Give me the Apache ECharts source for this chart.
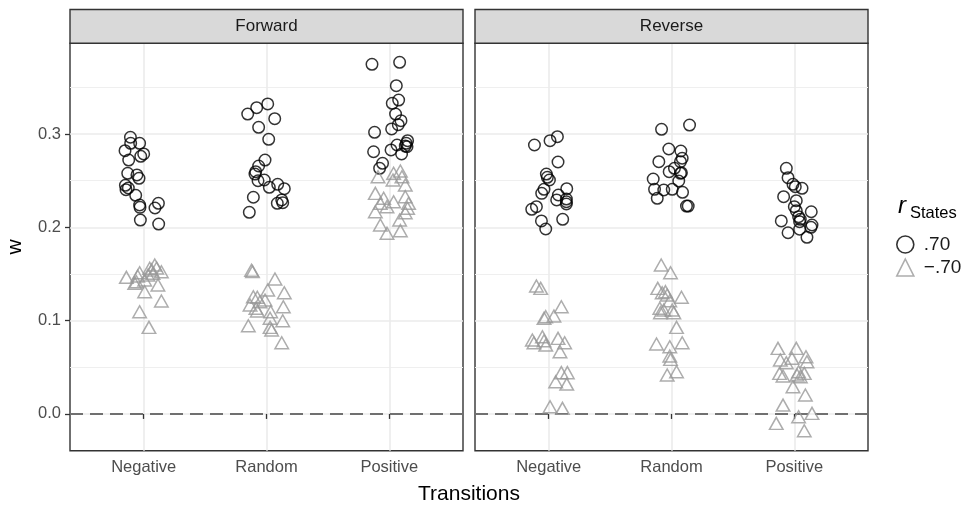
<!DOCTYPE html>
<html><head><meta charset="utf-8">
<script src="https://cdn.jsdelivr.net/npm/echarts@6/dist/echarts.min.js"></script>
<style>html,body{margin:0;padding:0;background:#fff}#c{width:970px;height:506px}</style>
</head><body><div id="c"></div>
<script>
const categories = ['Negative', 'Random', 'Positive'];
const panels = ['Forward', 'Reverse'];
const legendNames = ['.70', '\u2212.70'];
const yTicks = [0, 0.1, 0.2, 0.3];
const yMinorTicks = [0.05, 0.15, 0.25, 0.35];
const xTicks = [1, 2, 3];

// each point: [jitter offset from category centre, w]
const fwdNegativeHigh = [[-0.108,0.2965],[-0.106,0.2900],[-0.033,0.2900],[-0.152,0.2821],[0.000,0.2786],[-0.024,0.2761],[-0.122,0.2721],[-0.130,0.2579],[-0.055,0.2561],[-0.038,0.2525],[-0.149,0.2450],[-0.125,0.2421],[-0.144,0.2403],[-0.065,0.2343],[-0.033,0.2239],[-0.030,0.2214],[0.120,0.2257],[0.092,0.2207],[-0.027,0.2078],[0.122,0.2035]];
const fwdNegativeLow = [[-0.141,0.1464],[-0.033,0.1513],[0.049,0.1561],[0.090,0.1596],[0.144,0.1524],[0.076,0.1507],[0.035,0.1489],[-0.073,0.1400],[-0.059,0.1417],[0.116,0.1382],[0.008,0.1310],[0.144,0.1210],[-0.033,0.1095],[0.043,0.0928],[0.008,0.1435],[0.065,0.1543],[0.106,0.1564],[-0.049,0.1478]];
const fwdRandomHigh = [[-0.153,0.3214],[-0.080,0.3282],[0.010,0.3322],[0.067,0.3164],[-0.064,0.3072],[0.018,0.2943],[-0.012,0.2721],[-0.064,0.2657],[-0.088,0.2596],[-0.094,0.2571],[-0.069,0.2499],[-0.018,0.2507],[0.023,0.2429],[0.091,0.2461],[0.145,0.2414],[0.124,0.2293],[0.088,0.2257],[0.132,0.2264],[-0.107,0.2322],[-0.140,0.2161]];
const fwdRandomLow = [[-0.122,0.1540],[-0.114,0.1525],[0.069,0.1446],[0.010,0.1328],[0.145,0.1299],[-0.107,0.1256],[-0.075,0.1250],[-0.012,0.1221],[-0.134,0.1167],[0.137,0.1149],[-0.075,0.1103],[0.034,0.1095],[0.029,0.1025],[0.132,0.0999],[-0.148,0.0945],[0.029,0.0928],[0.042,0.0900],[0.124,0.0763],[-0.053,0.1203],[-0.086,0.1132]];
const fwdPositiveHigh = [[-0.141,0.3747],[0.084,0.3768],[0.057,0.3518],[0.076,0.3364],[0.024,0.3329],[0.051,0.3214],[0.095,0.3143],[0.073,0.3100],[0.019,0.3054],[-0.120,0.3018],[0.149,0.2928],[0.138,0.2900],[0.144,0.2864],[0.063,0.2882],[0.014,0.2829],[-0.128,0.2810],[0.100,0.2786],[-0.055,0.2686],[-0.079,0.2632],[0.130,0.2871]];
const fwdPositiveLow = [[0.090,0.2603],[-0.092,0.2542],[0.030,0.2507],[0.103,0.2542],[0.130,0.2453],[-0.114,0.2364],[-0.046,0.2311],[0.035,0.2274],[0.130,0.2328],[0.157,0.2257],[-0.073,0.2257],[-0.019,0.2221],[0.149,0.2204],[-0.114,0.2167],[0.130,0.2156],[0.084,0.2078],[-0.073,0.2025],[0.090,0.1964],[-0.019,0.1936],[0.035,0.2579]];
const revNegativeHigh = [[-0.116,0.2882],[0.011,0.2928],[0.071,0.2971],[0.076,0.2700],[-0.019,0.2571],[-0.011,0.2536],[0.006,0.2507],[-0.038,0.2407],[-0.057,0.2364],[0.147,0.2414],[0.079,0.2346],[0.065,0.2293],[0.144,0.2303],[0.144,0.2274],[0.144,0.2250],[-0.100,0.2221],[-0.138,0.2193],[-0.059,0.2068],[0.114,0.2086],[-0.024,0.1982]];
const revNegativeLow = [[-0.100,0.1371],[-0.065,0.1346],[0.103,0.1149],[0.043,0.1049],[-0.024,0.1042],[-0.038,0.1025],[-0.133,0.0792],[-0.120,0.0763],[-0.051,0.0827],[-0.038,0.0784],[-0.024,0.0738],[0.076,0.0810],[0.130,0.0763],[0.092,0.0667],[0.103,0.0442],[0.152,0.0442],[0.057,0.0345],[0.147,0.0320],[0.011,0.0077],[0.112,0.0060]];
const revRandomHigh = [[-0.081,0.3050],[0.147,0.3096],[-0.022,0.2839],[0.076,0.2818],[-0.103,0.2703],[0.087,0.2740],[0.073,0.2703],[0.024,0.2632],[-0.019,0.2596],[0.073,0.2579],[-0.149,0.2518],[0.059,0.2496],[-0.138,0.2407],[-0.063,0.2400],[0.006,0.2407],[0.090,0.2375],[-0.116,0.2311],[0.122,0.2228],[0.136,0.2228],[0.081,0.2585]];
const revRandomLow = [[-0.084,0.1596],[-0.008,0.1513],[-0.112,0.1346],[-0.076,0.1299],[-0.049,0.1310],[-0.035,0.1274],[0.081,0.1250],[-0.095,0.1132],[-0.063,0.1114],[-0.014,0.1213],[0.006,0.1114],[0.019,0.1085],[-0.090,0.1085],[0.041,0.0928],[-0.122,0.0749],[-0.014,0.0720],[0.087,0.0763],[-0.014,0.0621],[-0.008,0.0585],[-0.035,0.0417],[0.041,0.0452]];
const revPositiveHigh = [[-0.065,0.2632],[-0.051,0.2532],[-0.011,0.2461],[0.008,0.2435],[0.063,0.2418],[-0.087,0.2328],[0.016,0.2285],[0.000,0.2221],[0.016,0.2178],[0.138,0.2167],[0.035,0.2114],[0.049,0.2086],[0.043,0.2060],[-0.106,0.2068],[0.144,0.2025],[0.136,0.2000],[-0.051,0.1942],[0.043,0.1979],[0.103,0.1893]];
const revPositiveLow = [[-0.133,0.0703],[0.016,0.0703],[-0.114,0.0578],[-0.019,0.0596],[0.095,0.0613],[0.103,0.0559],[-0.065,0.0549],[-0.120,0.0435],[0.035,0.0452],[0.081,0.0435],[-0.092,0.0406],[0.022,0.0417],[0.049,0.0399],[-0.011,0.0292],[0.090,0.0203],[-0.092,0.0095],[0.035,-0.0030],[0.144,0.0006],[-0.147,-0.0101],[0.081,-0.0180]];

const panelData = [
  [[fwdNegativeHigh, fwdRandomHigh, fwdPositiveHigh], [fwdNegativeLow, fwdRandomLow, fwdPositiveLow]],
  [[revNegativeHigh, revRandomHigh, revPositiveHigh], [revNegativeLow, revRandomLow, revPositiveLow]]
];

const FONT = '"Liberation Sans", Arial, Helvetica, sans-serif';
const Y_MIN = -0.0394, Y_MAX = 0.3972;
const gridLeft = [70, 475], gridTop = 43.3, gridW = 393, gridH = 407.4;
const symbolCfg = [
  {symbol: 'circle', size: 11.5, color: '#000000'},
  {symbol: 'triangle', size: [13.5, 12], color: '#999999'}
];

const grids = [], xAxes = [], yAxes = [], series = [], graphics = [];
panels.forEach((p, pi) => {
  grids.push({left: gridLeft[pi], top: gridTop, width: gridW, height: gridH, show: true,
    borderColor: '#333333', borderWidth: 1.4, backgroundColor: 'transparent', containLabel: false});
  xAxes.push({gridIndex: pi, type: 'value', min: 0.4, max: 3.6,
    axisLine: {show: false},
    axisTick: {show: true, customValues: xTicks, length: 5, lineStyle: {color: '#333333', width: 1.3}},
    axisLabel: {customValues: xTicks, formatter: v => categories[Math.round(v) - 1], fontSize: 16.5,
      color: '#4D4D4D', fontFamily: FONT, margin: 8},
    splitLine: {show: true, lineStyle: {color: '#EBEBEB', width: 1.6}}});
  yAxes.push({gridIndex: pi, type: 'value', min: Y_MIN, max: Y_MAX,
    axisLine: {show: false},
    axisTick: {show: pi === 0, customValues: yTicks, length: 5, lineStyle: {color: '#333333', width: 1.3}},
    axisLabel: {show: pi === 0, customValues: yTicks, formatter: v => v.toFixed(1), fontSize: 16.5,
      color: '#4D4D4D', fontFamily: FONT, margin: 9},
    splitLine: {show: true, lineStyle: {color: '#EBEBEB', width: 1.6}}});
  yAxes.push({gridIndex: pi, type: 'value', min: Y_MIN, max: Y_MAX, position: 'right',
    axisLine: {show: false},
    axisTick: {show: false, customValues: yMinorTicks},
    axisLabel: {show: false, customValues: yMinorTicks},
    splitLine: {show: true, lineStyle: {color: '#EFEFEF', width: 1}}});
  [0, 1].forEach(g => {
    const data = [];
    panelData[pi][g].forEach((arr, ci) => arr.forEach(pt => data.push([ci + 1 + pt[0], pt[1]])));
    const s = {
      type: 'scatter', name: legendNames[g], xAxisIndex: pi, yAxisIndex: pi * 2,
      symbol: symbolCfg[g].symbol, symbolSize: symbolCfg[g].size, data: data,
      itemStyle: {color: 'transparent', borderColor: symbolCfg[g].color, borderWidth: 1.5},
      emphasis: {disabled: true}, z: 3
    };
    if (g === 0) {
      s.markLine = {silent: true, symbol: ['none', 'none'], label: {show: false},
        lineStyle: {color: '#707070', type: [13, 7], width: 2}, data: [{yAxis: 0}], z: 2};
    }
    series.push(s);
  });
  graphics.push({type: 'rect', shape: {x: gridLeft[pi], y: 9.5, width: gridW, height: 33.8},
    style: {fill: '#D9D9D9', stroke: '#333333', lineWidth: 1.4}, z: 10});
  graphics.push({type: 'text', x: gridLeft[pi] + gridW / 2, y: 26.5, z: 11,
    style: {text: p, textAlign: 'center', textVerticalAlign: 'middle', fontSize: 17, fontFamily: FONT, fill: '#1A1A1A'}});
});

graphics.push({type: 'text', x: 469, y: 494, style: {text: 'Transitions', textAlign: 'center', textVerticalAlign: 'middle',
  fontSize: 21, fontFamily: FONT, fill: '#000'}});
graphics.push({type: 'text', x: 15, y: 247, rotation: Math.PI / 2, style: {text: 'w', textAlign: 'center', textVerticalAlign: 'middle',
  fontSize: 21, fontFamily: FONT, fill: '#000'}});
graphics.push({type: 'text', x: 898, y: 206, style: {text: 'r', textAlign: 'left', textVerticalAlign: 'middle',
  fontSize: 24, fontStyle: 'italic', fontFamily: FONT, fill: '#000'}});
graphics.push({type: 'text', x: 910, y: 213, style: {text: 'States', textAlign: 'left', textVerticalAlign: 'middle',
  fontSize: 16.5, fontFamily: FONT, fill: '#000'}});

const chart = echarts.init(document.getElementById('c'), null, {renderer: 'canvas'});
chart.setOption({
  animation: false,
  backgroundColor: '#ffffff',
  grid: grids, xAxis: xAxes, yAxis: yAxes, series: series, graphic: graphics,
  legend: {left: 891, top: 230, orient: 'vertical', itemWidth: 17, itemHeight: 17, itemGap: 4, selectedMode: false,
    textStyle: {fontSize: 19, color: '#1A1A1A', fontFamily: FONT, padding: [0, 0, 0, 5]},
    data: [
      {name: legendNames[0], icon: 'circle', itemStyle: {color: 'transparent', borderColor: '#000', borderWidth: 1.6}},
      {name: legendNames[1], icon: 'triangle', itemStyle: {color: 'transparent', borderColor: '#999', borderWidth: 1.6}}
    ]}
});
</script></body></html>
